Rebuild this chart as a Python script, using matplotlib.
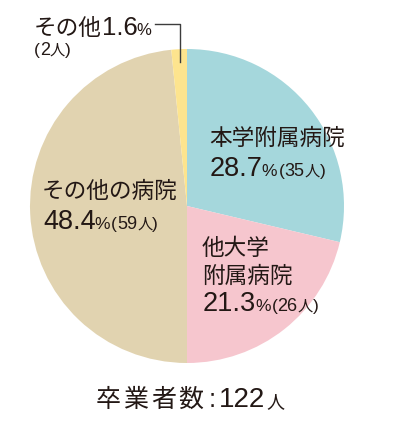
import matplotlib
matplotlib.use("Agg")
import matplotlib.pyplot as plt

plt.rcParams["font.family"] = ["Noto Sans CJK JP", "DejaVu Sans"]

# data
labels = ["本学附属病院", "他大学\n附属病院", "その他の病院", "その他"]
shares = [28.7, 21.3, 48.4, 1.6]
counts = [35, 26, 59, 2]
total = 122
colors = ["#a5d7dc", "#f6c6ce", "#e1d3b0", "#fde48e"]

INK = "#231815"
W, H = 395, 424
CJK = ["Noto Sans CJK JP", "DejaVu Sans"]
NUM = ["Liberation Sans", "Noto Sans CJK JP"]

fig = plt.figure(figsize=(W / 100, H / 100), dpi=100)
ax = fig.add_axes([0, 0, 1, 1])

ax.pie(shares, colors=colors, startangle=90, counterclock=False,
       center=(187, H - 206), radius=157, frame=True,
       wedgeprops=dict(linewidth=0))
ax.set_xlim(0, W)
ax.set_ylim(0, H)
ax.set_aspect("equal")
ax.axis("off")

renderer = fig.canvas.get_renderer()


def rich(x, y, parts, track=0):
    """Row of text pieces (text, size, family) on one baseline; a bare number
    is a gap in px. Axes spans the figure in pixel units, so extents map 1:1."""
    for p in parts:
        if not isinstance(p, tuple):
            x += p
            continue
        s, size, fam = p
        for ch in (s if track else [s]):
            t = ax.text(x, H - y, ch, fontsize=size, family=fam, color=INK,
                        ha="left", va="baseline")
            x = t.get_window_extent(renderer).x1 + track
    return x


def count_part(n):
    return [("(", 12.5, NUM), (f"{n}", 13, NUM), ("人", 11, CJK),
            (")", 12.5, NUM)]


def pct_line(x, y, i):
    rich(x, y, [(f"{shares[i]:.1f}", 19.5, NUM), -1, ("%", 12.5, NUM), 1]
         + count_part(counts[i]))


# 本学附属病院
rich(209, 145, [(labels[0], 16.3, CJK)])
pct_line(210, 176, 0)

# 他大学附属病院
for k, line in enumerate(labels[1].split("\n")):
    rich(202, 255 + 28 * k, [(line, 16.3, CJK)])
pct_line(203, 311, 1)

# その他の病院
rich(42, 198, [(labels[2], 16.3, CJK)])
pct_line(43, 229, 2)

# その他 (small slice, with leader line)
x = rich(34, 35, [(labels[3], 16.3, CJK), (f"{shares[3]:.1f}", 18.5, NUM),
                  -1, ("%", 12, NUM)])
rich(34, 55, count_part(counts[3]))
ax.plot([x + 3, 180, 180], [H - 24, H - 24, H - 62], color="#3c3c3c", lw=1)

# total
x = rich(96, 407, [("卒業者数", 18, CJK)], track=2.5)
rich(x + 3, 407, [(":", 18.5, NUM), 3, (f"{total}", 20, NUM), 1,
                  ("人", 13, CJK)])

fig.savefig("out.png", dpi=100)
